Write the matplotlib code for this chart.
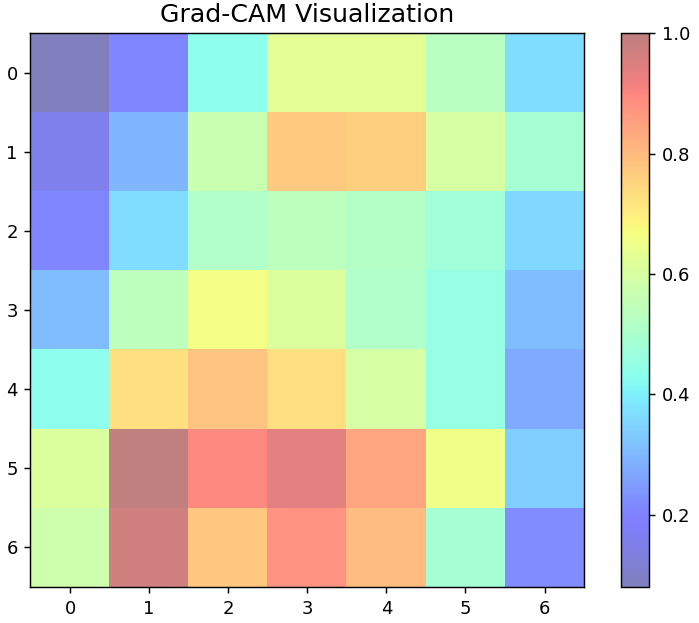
import numpy as np
import matplotlib
matplotlib.use('Agg')
import matplotlib.pyplot as plt

# Grad-CAM heat values (rows top to bottom)
row0 = [0.080, 0.209, 0.434, 0.627, 0.627, 0.531, 0.365]
row1 = [0.154, 0.295, 0.568, 0.770, 0.761, 0.600, 0.489]
row2 = [0.209, 0.365, 0.512, 0.540, 0.522, 0.476, 0.356]
row3 = [0.310, 0.540, 0.660, 0.609, 0.512, 0.453, 0.310]
row4 = [0.434, 0.729, 0.779, 0.729, 0.600, 0.457, 0.273]
row5 = [0.609, 1.000, 0.899, 0.940, 0.844, 0.655, 0.338]
row6 = [0.577, 0.968, 0.775, 0.878, 0.798, 0.489, 0.218]

cam = np.array([row0, row1, row2, row3, row4, row5, row6])

# rendered at 130 dpi so text is scaled like the original
fig = plt.figure(figsize=(699 / 130, 623 / 130), dpi=130)
ax = fig.add_axes([0.0436, 0.0578, 0.792, 0.889])
cax = fig.add_axes([0.8884, 0.0578, 0.0401, 0.889])

im = ax.imshow(cam, cmap='jet', alpha=0.5)
ax.set_title('Grad-CAM Visualization', fontsize=14)
fig.colorbar(im, cax=cax)

fig.savefig('out.png', dpi=130)
